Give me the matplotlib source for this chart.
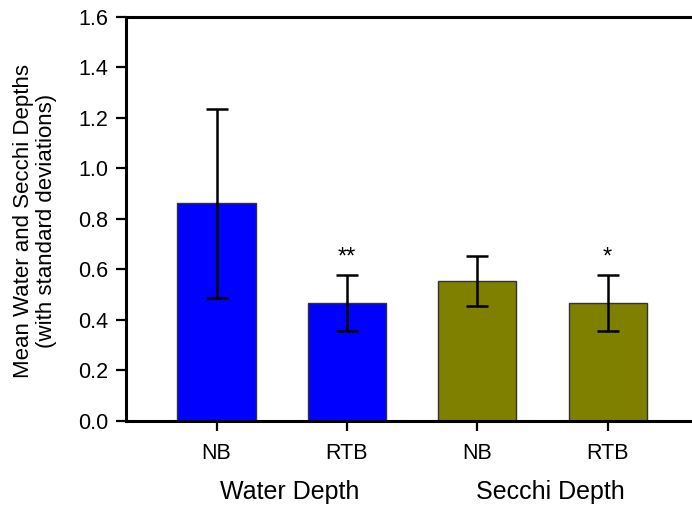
import numpy as np
import matplotlib
matplotlib.use("Agg")
import matplotlib.pyplot as plt
from matplotlib.transforms import blended_transform_factory

plt.rcParams["font.family"] = ["Liberation Sans", "DejaVu Sans"]

# Data
tick_labels = ["NB", "RTB", "NB", "RTB"]
groups = ["Water Depth", "Secchi Depth"]
means = [0.862, 0.467, 0.553, 0.467]
sds = [0.375, 0.110, 0.100, 0.110]
colors = ["#0000ff", "#0000ff", "#808000", "#808000"]
marks = ["", "**", "", "*"]

x = np.arange(len(means))

fig = plt.figure(figsize=(6.92, 5.08), dpi=100)
ax = fig.add_axes([126 / 692, 1 - 420.6 / 508, 1 - 126 / 692 + 0.01, (420.6 - 17) / 508])

ax.bar(x, means, width=0.6, color=colors, edgecolor="#333333", linewidth=1.0, zorder=2)
ax.errorbar(x, means, yerr=sds, fmt="none", ecolor="black", elinewidth=1.8,
            capsize=8, capthick=1.8, zorder=3)

# significance marks above the error bars
for xi, m, s, t in zip(x, means, sds, marks):
    if t:
        ax.annotate(t, (xi, m + s), xytext=(0, 5), textcoords="offset points",
                    ha="center", va="bottom", fontsize=17)

ax.set_xlim(-0.695, 3.70)
ax.set_ylim(0, 1.6)
ax.set_yticks(np.arange(0, 1.61, 0.2))
ax.set_yticklabels([f"{v:.1f}" for v in np.arange(0, 1.61, 0.2)])
ax.set_xticks(x)
ax.set_xticklabels(tick_labels)

for side in ["left", "bottom", "top"]:
    ax.spines[side].set_linewidth(2.2)
ax.spines["right"].set_visible(False)

ax.tick_params(axis="y", direction="out", length=7, width=1.6, labelsize=15.5, pad=6)
ax.tick_params(axis="x", direction="out", length=7, width=1.6, labelsize=15.5, pad=9)

# group labels under the tick labels
trans = blended_transform_factory(ax.transData, ax.transAxes)
for i, g in enumerate(groups):
    ax.text(x[2 * i:2 * i + 2].mean() + 0.06, -0.176, g, transform=trans,
            ha="center", va="center", fontsize=18)

fig.text(35 / 692, 1 - 221 / 508,
         "Mean Water and Secchi Depths\n(with standard deviations)",
         rotation=90, ha="center", va="center", multialignment="center",
         fontsize=16, linespacing=1.15)

fig.savefig("out.png", dpi=100)
